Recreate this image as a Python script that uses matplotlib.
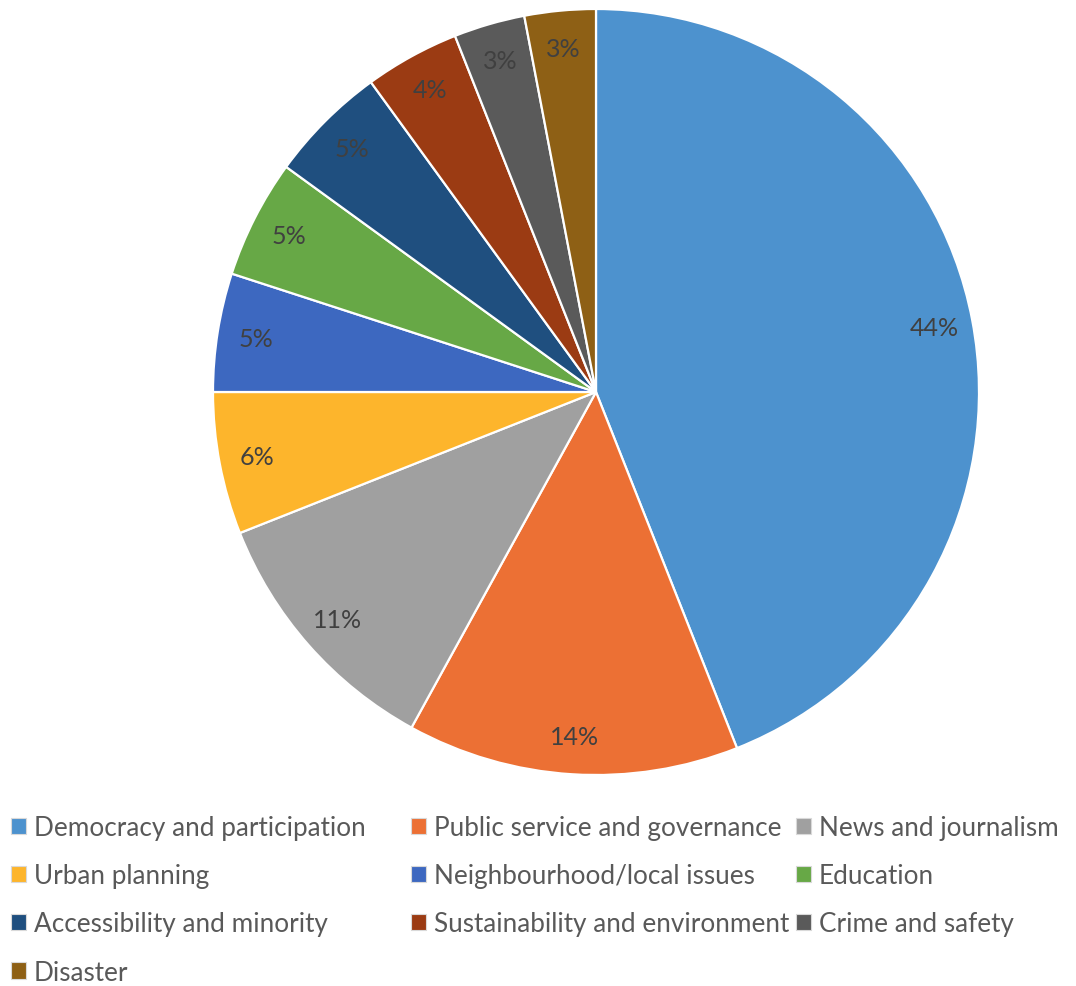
import matplotlib.pyplot as plt
from matplotlib.patches import Patch

plt.rcParams['font.family'] = ['Lato', 'DejaVu Sans']

categories = [
    "Democracy and participation",
    "Public service and governance",
    "News and journalism",
    "Urban planning",
    "Neighbourhood/local issues",
    "Education",
    "Accessibility and minority",
    "Sustainability and environment",
    "Crime and safety",
    "Disaster",
]
shares = [44, 14, 11, 6, 5, 5, 5, 4, 3, 3]
colors = ['#4D92CE', '#EC7034', '#A0A0A0', '#FDB52C', '#3D68C0',
          '#67A846', '#1F4F7F', '#9B3B13', '#5A5A5A', '#8E6015']

fig = plt.figure(figsize=(10.76, 9.87), dpi=100)

# pie centred at (596, 393) px with radius 383 px
W, H = 1076, 987
cx, cy, r = 596, 393, 383
ax = fig.add_axes([(cx - r) / W, (H - cy - r) / H, 2 * r / W, 2 * r / H])

wedges, texts, autotexts = ax.pie(
    shares, colors=colors, startangle=90, counterclock=False,
    autopct=lambda p: f"{p:.0f}%", pctdistance=0.9,
    wedgeprops=dict(edgecolor='white', linewidth=1.6),
    textprops=dict(color='#404040', fontsize=18),
)
ax.set_xlim(-1, 1)
ax.set_ylim(-1, 1)
ax.set_aspect('equal')
ax.axis('off')

# legend laid out row by row in three columns
col_x = [11, 411, 796]
for c in range(3):
    idx = list(range(c, len(categories), 3))
    handles = [Patch(facecolor=colors[i], edgecolor='#D9D9D9', linewidth=0.8)
               for i in idx]
    leg = fig.legend(handles, [categories[i] for i in idx],
                     loc='upper left', bbox_to_anchor=(col_x[c] / W, 1 - 816 / H),
                     frameon=False, fontsize=18.8, labelcolor='#595959',
                     handlelength=0.58, handleheight=0.58, handletextpad=0.3,
                     labelspacing=0.89, borderaxespad=0, borderpad=0)

fig.savefig('out.png', dpi=100)
